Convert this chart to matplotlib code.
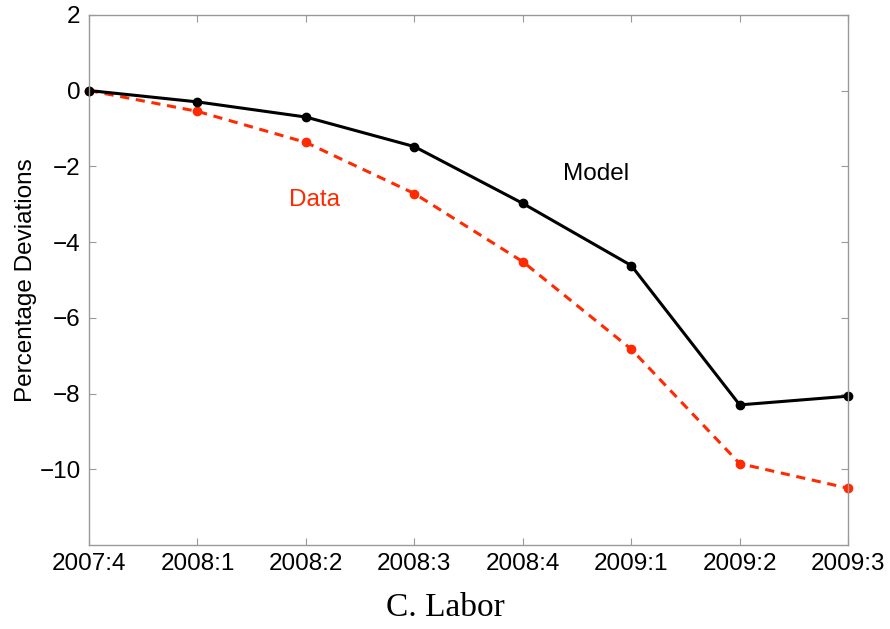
import matplotlib
matplotlib.use("Agg")
import matplotlib.pyplot as plt

quarters = ["2007:4", "2008:1", "2008:2", "2008:3", "2008:4", "2009:1", "2009:2", "2009:3"]
model = [0.0, -0.30, -0.70, -1.48, -2.98, -4.62, -8.30, -8.07]
data = [0.0, -0.55, -1.37, -2.72, -4.52, -6.83, -9.85, -10.50]

plt.rcParams['font.family'] = ['Liberation Sans', 'DejaVu Sans']

fig = plt.figure(figsize=(8.9, 6.29), dpi=100)
ax = fig.add_axes([0.1, 0.1335, 0.853, 0.843])

x = list(range(len(quarters)))
ax.plot(x, data, color='#ff2a00', linestyle='--', linewidth=2.2, dashes=(3, 2.2),
        marker='o', markersize=6, clip_on=False)
ax.plot(x, model, color='black', linewidth=2.2, marker='o', markersize=6, clip_on=False)

ax.set_xlim(0, len(quarters) - 1)
ax.set_ylim(-12, 2)
ax.set_xticks(x)
ax.set_xticklabels(quarters)
ax.set_yticks([2, 0, -2, -4, -6, -8, -10])
ax.set_yticklabels(['2', '0', '\u22122', '\u22124', '\u22126', '\u22128', '\u221210'])
ax.tick_params(direction='in', color='#999999', length=5, labelsize=17.5, pad=6,
               top=True, right=True)
for s in ax.spines.values():
    s.set_color('#999999')
    s.set_linewidth(1)

ax.set_ylabel('Percentage Deviations', fontsize=17.5, labelpad=2)
ax.text(4.68, -2.2, 'Model', fontsize=17.5, color='black', ha='center', va='center')
ax.text(2.08, -2.9, 'Data', fontsize=17.5, color='#ff2a00', ha='center', va='center')

fig.text(0.5, 0.034, 'C. Labor', fontsize=24, family='Liberation Serif', ha='center', va='center')

fig.savefig('out.png', dpi=100)
